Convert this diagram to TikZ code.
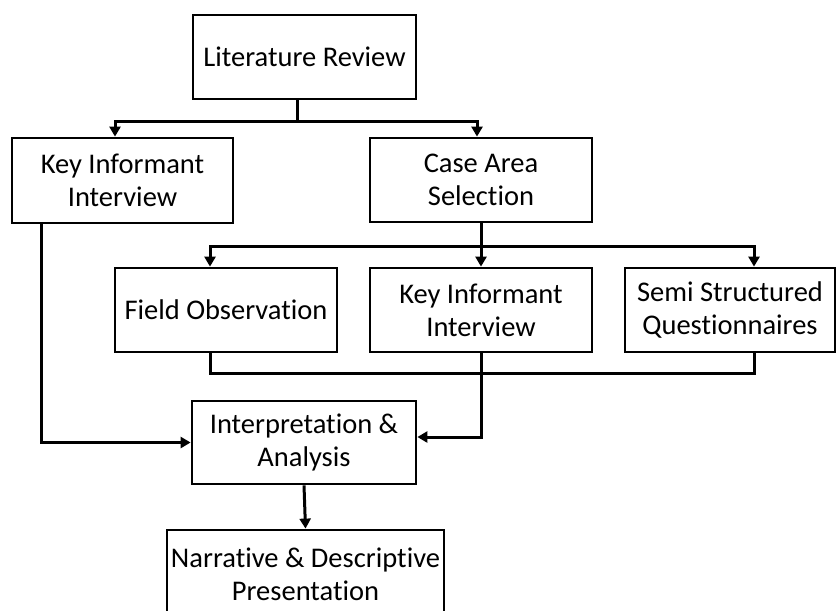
\documentclass[tikz,border=0pt]{standalone}
\usepackage{fontspec}
\setmainfont{Carlito}[Ligatures={NoCommon}]
\usetikzlibrary{arrows.meta}
\begin{document}
\begin{tikzpicture}[x=1pt,y=-1pt,
  box/.style={draw, line width=2.8pt, rectangle, align=center, inner sep=0pt,
    font=\fontsize{28.5}{33}\selectfont},
  link/.style={line width=3pt},
  arr/.style={link, -{Triangle[length=10pt,width=11pt]}}]
\useasboundingbox (0,0) rectangle (837,610);
\clip (0,0) rectangle (837,610);

% boxes
\node[box, minimum width=223pt, minimum height=84pt] (lr)     at (304.5,57)  {Literature Review};
\node[box, minimum width=221pt, minimum height=85pt] (kii1)   at (122.5,180.5) {Key Informant\\Interview};
\node[box, minimum width=222pt, minimum height=84pt] (cas)    at (481,180)   {Case Area\\Selection};
\node[box, minimum width=222pt, minimum height=84pt] (fo)     at (226,310)   {Field Observation};
\node[box, minimum width=222pt, minimum height=84pt] (kii2)   at (481,310)   {Key Informant\\Interview};
\node[box, minimum width=210pt, minimum height=84pt] (ssq)    at (730,310)   {Semi Structured\\Questionnaires};
\node[box, minimum width=224pt, minimum height=83pt] (interp) at (304,442.5) {Interpretation \&\\Analysis};
\node[box, minimum width=277pt, minimum height=88pt] (narr)   at (305.5,574) {Narrative \& Descriptive\\Presentation};

% literature review splits into the two first steps
\draw[arr] ([xshift=-7pt]lr.south) -- ++(0,21) -| ([xshift=-7.5pt]kii1.north);
\draw[arr] ([xshift=-7pt]lr.south) -- ++(0,21) -| ([xshift=-4pt]cas.north);

% case area selection fans out to the three methods
\draw[arr] (cas.south) -- ++(0,23) -| ([xshift=-16pt]fo.north);
\draw[arr] (cas.south) -- (kii2.north);
\draw[arr] (cas.south) -- ++(0,23) -| ([xshift=24pt]ssq.north);

% the three methods join again
\draw[link] ([xshift=-16pt]fo.south) -- ++(0,20) -| ([xshift=24pt]ssq.south);
\draw[arr] (kii2.south) |- ([yshift=5.5pt]interp.east);

% first interview goes straight to the analysis
\draw[arr] ([xshift=-81.5pt]kii1.south) |- (interp.west);

% analysis to presentation
\draw[arr] (interp.south) -- (narr.north);
\end{tikzpicture}
\end{document}
